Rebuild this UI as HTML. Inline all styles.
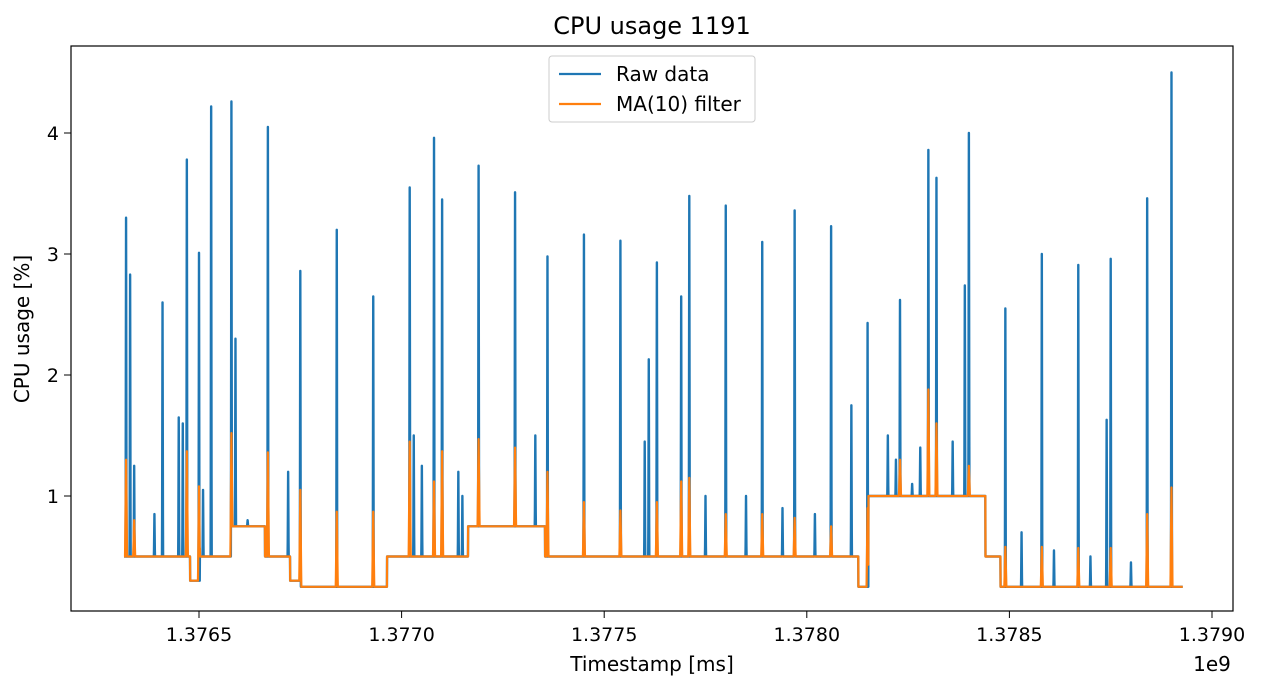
<!DOCTYPE html>
<html><head><meta charset="utf-8"><style>
body{margin:0;background:#fff}
svg text{font-family:"DejaVu Sans","Liberation Sans",sans-serif;fill:#000}
</style></head><body>
<svg id="chart" width="1270" height="690" xmlns="http://www.w3.org/2000/svg">
<text x="652" y="34" font-size="24" text-anchor="middle">CPU usage 1191</text>
<g id="plot"></g>
<g id="axes"></g>
<rect x="71" y="46" width="1162" height="565" fill="none" stroke="#000" stroke-width="1.2"/>
<text x="652" y="671" font-size="20" text-anchor="middle">Timestamp [ms]</text>
<text x="1212" y="671" font-size="20" text-anchor="middle">1e9</text>
<text transform="translate(29,329) rotate(-90)" font-size="20" text-anchor="middle">CPU usage [%]</text>
<g>
<rect x="549" y="56" width="206" height="66" rx="3" fill="#fff" fill-opacity="0.8" stroke="#ccc"/>
<line x1="559" y1="74" x2="601" y2="74" stroke="#1f77b4" stroke-width="2.2"/>
<text x="616" y="81" font-size="20">Raw data</text>
<line x1="559" y1="104" x2="601" y2="104" stroke="#ff7f0e" stroke-width="2.2"/>
<text x="616" y="111" font-size="20">MA(10) filter</text>
</g>
</svg>
<script>
const segStart=[1.376315,1.376478,1.376502,1.376581,1.376663,1.376725,1.376749,1.376964,1.377164,1.377354,1.377898,1.378127,1.378152,1.378441,1.378478];
const segEnd=[1.376478,1.376502,1.376581,1.376663,1.376725,1.376749,1.376964,1.377164,1.377354,1.377898,1.378127,1.378152,1.378441,1.378478,1.378928];
const segLevel=[0.5,0.3,0.5,0.75,0.5,0.3,0.25,0.5,0.75,0.5,0.5,0.25,1.0,0.5,0.25];
const spikeT=[1.37632,1.37633,1.37634,1.37639,1.37641,1.37645,1.37646,1.37647,1.37650,1.37653,1.37658,1.37659,1.37667,1.37672,1.37675,1.37684,1.37693,1.37702,1.37703,1.37708,1.37710,1.37719,1.37728,1.37736,1.37745,1.37754,1.37761,1.37763,1.37769,1.37771,1.37780,1.37789,1.37797,1.37806,1.37811,1.37815,1.37823,1.37830,1.37832,1.37839,1.37840,1.37849,1.37858,1.37867,1.37874,1.37875,1.37884,1.37890,
1.37651,1.37662,1.37705,1.37714,1.37715,1.37733,1.37760,1.37775,1.37785,1.37794,1.37802,1.37820,1.37822,1.37826,1.37828,1.37836,1.37843,1.37853,1.37861,1.37870,1.37880];
const spikeV=[3.3,2.83,1.25,0.85,2.6,1.65,1.6,3.78,3.01,4.22,4.26,2.3,4.05,1.2,2.86,3.2,2.65,3.55,1.5,3.96,3.45,3.73,3.51,2.98,3.16,3.11,2.13,2.93,2.65,3.48,3.4,3.1,3.36,3.23,1.75,2.43,2.62,3.86,3.63,2.74,4.0,2.55,3.0,2.91,1.63,2.96,3.46,4.5,
1.05,0.8,1.25,1.2,1.0,1.5,1.45,1.0,1.0,0.9,0.85,1.5,1.3,1.1,1.4,1.45,1.0,0.7,0.55,0.5,0.45];
const maT=[1.37632,1.37634,1.37647,1.37650,1.37658,1.37667,1.37675,1.37684,1.37693,1.37702,1.37708,1.37710,1.37719,1.37728,1.37736,1.37745,1.37754,1.37763,1.37769,1.37771,1.37780,1.37789,1.37797,1.37806,1.37815,1.37823,1.37830,1.37832,1.37840,1.37849,1.37858,1.37867,1.37875,1.37884,1.37890];
const maV=[1.3,0.8,1.37,1.08,1.52,1.36,1.05,0.87,0.87,1.45,1.12,1.37,1.47,1.4,1.2,0.95,0.88,0.95,1.12,1.15,0.85,0.85,0.82,0.75,0.9,1.3,1.88,1.6,1.25,0.58,0.58,0.57,0.57,0.85,1.07];
const xTicks=[1.3765,1.3770,1.3775,1.3780,1.3785,1.3790];
const yTicks=[1,2,3,4];
const X=t=>199+(t-1.3765)/0.0005*202.6;
const Y=v=>617-v*121;
const NS="http://www.w3.org/2000/svg";
const plot=document.getElementById('plot'),axes=document.getElementById('axes');
function levelAt(t){for(let i=0;i<segStart.length;i++)if(t>=segStart[i]&&t<segEnd[i])return segLevel[i];return segLevel[segLevel.length-1];}
function build(ts,vs,w){
  const t0=segStart[0],t1=segEnd[segEnd.length-1],step=0.0000004;
  let times=[];
  for(let k=0;t0+k*step<=t1;k++)times.push(t0+k*step);
  ts.forEach(s=>times.push(s));
  times.sort((a,b)=>a-b);
  let d='';
  times.forEach((t,k)=>{
    let v=levelAt(t);const b=v;
    ts.forEach((s,i)=>{const dt=Math.abs(t-s);if(dt<w){const h=b+(vs[i]-b)*(1-dt/w);if(h>v)v=h;}});
    d+=(k?'L':'M')+X(t).toFixed(2)+' '+Y(v).toFixed(1);
  });
  return d;
}
let p=document.createElementNS(NS,'path');
p.setAttribute('d',build(spikeT,spikeV,0.0000012));p.setAttribute('fill','none');p.setAttribute('stroke','#1f77b4');p.setAttribute('stroke-width','2.4');p.setAttribute('stroke-linejoin','round');


plot.appendChild(p);
let q=document.createElementNS(NS,'path');
q.setAttribute('d',build(maT,maV,0.0000025));q.setAttribute('fill','none');q.setAttribute('stroke','#ff7f0e');q.setAttribute('stroke-width','2.2');q.setAttribute('stroke-linejoin','round');


plot.appendChild(q);
xTicks.forEach(t=>{const x=X(t);const l=document.createElementNS(NS,'line');l.setAttribute('x1',x);l.setAttribute('x2',x);l.setAttribute('y1',611);l.setAttribute('y2',618);l.setAttribute('stroke','#000');


axes.appendChild(l);const tx=document.createElementNS(NS,'text');tx.setAttribute('x',x);tx.setAttribute('y',641);tx.setAttribute('font-size','19');tx.setAttribute('text-anchor','middle');tx.textContent=t.toFixed(4);


axes.appendChild(tx);});
yTicks.forEach(v=>{const y=Y(v);const l=document.createElementNS(NS,'line');l.setAttribute('x1',64);l.setAttribute('x2',71);l.setAttribute('y1',y);l.setAttribute('y2',y);l.setAttribute('stroke','#000');


axes.appendChild(l);const tx=document.createElementNS(NS,'text');tx.setAttribute('x',59);tx.setAttribute('y',y+7);tx.setAttribute('font-size','19');tx.setAttribute('text-anchor','end');tx.textContent=v;


axes.appendChild(tx);});
</script>
</body></html>
